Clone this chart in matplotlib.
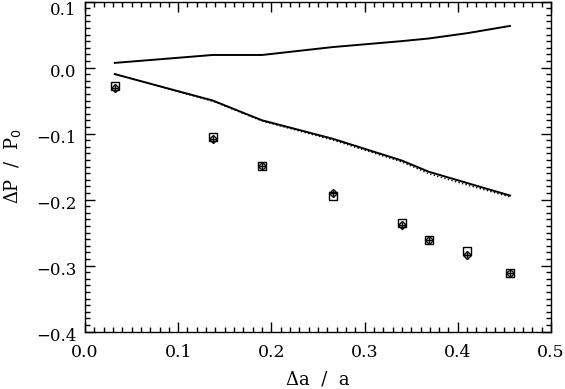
import matplotlib
matplotlib.use("Agg")
import matplotlib.pyplot as plt
from matplotlib.ticker import MultipleLocator, FuncFormatter
from matplotlib.transforms import ScaledTranslation

# data
da = [0.032, 0.137, 0.190, 0.266, 0.340, 0.369, 0.410, 0.456]
upper = [0.007, 0.019, 0.019, 0.031, 0.040, 0.044, 0.052, 0.063]
lower = [-0.010, -0.050, -0.080, -0.108, -0.141, -0.158, -0.175, -0.194]
lower_dot = [-0.010, -0.051, -0.081, -0.110, -0.143, -0.161, -0.178, -0.196]
sq = [-0.028, -0.105, -0.149, -0.194, -0.235, -0.262, -0.278, -0.311]
dia = [-0.031, -0.108, -0.149, -0.190, -0.239, -0.262, -0.284, -0.311]

plt.rcParams['font.family'] = 'DejaVu Serif'
plt.rcParams['font.size'] = 12

fig = plt.figure(figsize=(5.65, 3.89), dpi=100)
ax = fig.add_axes([0.1504, 0.1478, 0.8248, 0.8483])

ax.plot(da, upper, color='black', lw=1.4)
ax.plot(da, lower, color='black', lw=1.4)
ax.plot(da, lower_dot, color='black', lw=1.0, linestyle=':')
ax.plot(da, sq, linestyle='none', marker='s', ms=5.5, mfc='none', mec='black', mew=1.0)
ax.plot(da, dia, linestyle='none', marker='D', ms=4.5, mfc='none', mec='black', mew=1.0)
ax.plot(da, dia, linestyle='none', marker='+', ms=4.5, color='black', mew=1.0)

fmt = FuncFormatter(lambda v, p: ('%.1f' % v).replace('-', '\u2212'))
ax.set_xlim(0.0, 0.5)
ax.set_ylim(-0.4, 0.1)
ax.xaxis.set_major_locator(MultipleLocator(0.1))
ax.xaxis.set_minor_locator(MultipleLocator(0.01))
ax.yaxis.set_major_locator(MultipleLocator(0.1))
ax.yaxis.set_minor_locator(MultipleLocator(0.01))
ax.xaxis.set_major_formatter(fmt)
ax.yaxis.set_major_formatter(fmt)
ax.tick_params(which='both', direction='in', top=True, right=True, width=1.0)
ax.tick_params(which='major', length=7)
ax.tick_params(which='minor', length=3.5)
ax.tick_params(axis='x', which='major', pad=9, labelsize=12.5)
ax.tick_params(axis='y', which='major', pad=6)
for s in ax.spines.values():
    s.set_linewidth(1.0)

ax.set_xlabel('\u0394a  /  a', fontsize=13)
ax.set_ylabel('\u0394P  /  P$_0$', fontsize=13)
ax.xaxis.set_label_coords(0.5, -0.117)
ax.yaxis.set_label_coords(-0.132, 0.5)

# IDL puts the y labels a touch below their ticks
fig.canvas.draw()
for t in ax.yaxis.get_major_ticks():
    y = t.get_loc()
    dy = -7 if y > 0.09 else -3
    t.label1.set_transform(t.label1.get_transform() + ScaledTranslation(0, dy / 100, fig.dpi_scale_trans))

fig.savefig('out.png', dpi=100)
